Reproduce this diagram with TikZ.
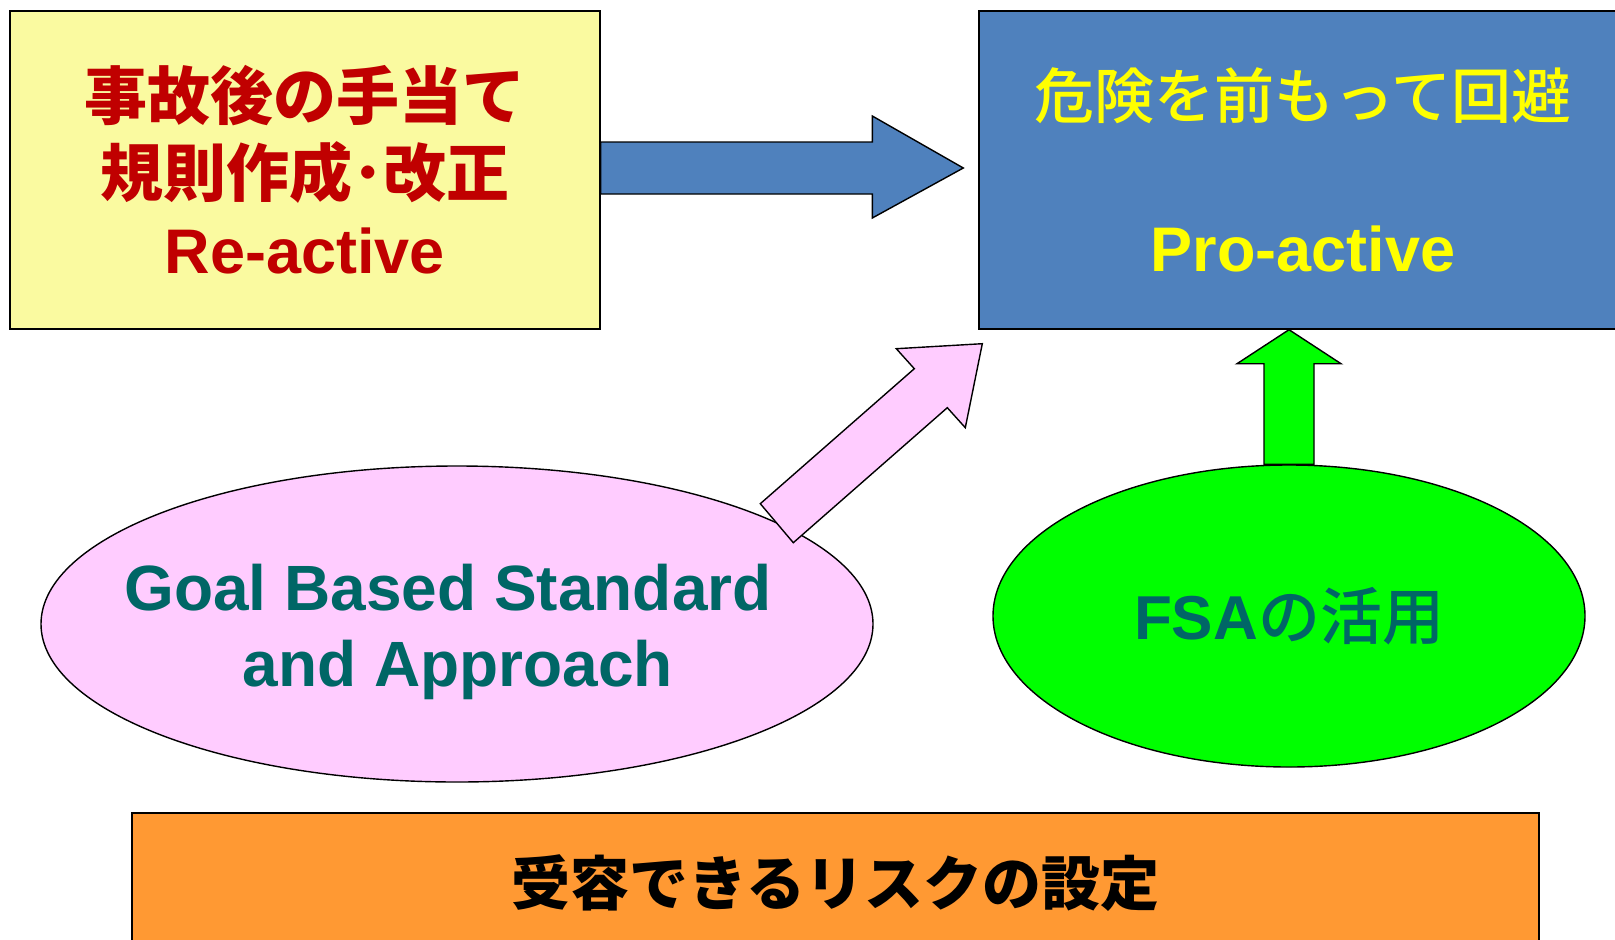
\documentclass[tikz,border=0pt]{standalone}
\usepackage{fontspec}
\setmainfont{Liberation Sans}
\newfontfamily\jp{Noto Sans CJK JP}
\newfontfamily\jpmid{Noto Sans CJK JP Medium}
\usetikzlibrary{shapes.geometric,calc}

\definecolor{boxyellow}{RGB}{250,250,160}
\definecolor{boxblue}{RGB}{79,129,189}
\definecolor{ovalpink}{RGB}{255,204,255}
\definecolor{ovalgreen}{RGB}{0,255,0}
\definecolor{boxorange}{RGB}{255,153,51}
\definecolor{txtred}{RGB}{192,0,0}
\definecolor{txtteal}{RGB}{0,102,102}
\definecolor{txtyellow}{RGB}{255,255,0}

\begin{document}
\begin{tikzpicture}[x=1pt,y=-1pt,
  shapeline/.style={draw=black,line width=1.4pt},
  panel/.style={shapeline,rectangle,inner sep=0pt,align=center},
  oval/.style={shapeline,ellipse,inner sep=0pt,align=center},
  blockarrow/.style={shapeline,line join=miter}]

\useasboundingbox (0,0) rectangle (1615,940);
\clip (0,0) rectangle (1615,940);

% upper boxes
\node[panel,fill=boxyellow,minimum width=590,minimum height=318,text=txtred,
      font=\bfseries\fontsize{63}{77}\selectfont] (reactive) at (305,170)
  {{\jp 事故後の手当て}\\{\jp 規則作成･改正}\\Re-active};

\node[panel,fill=boxblue,minimum width=648,minimum height=318,text=txtyellow,
      font=\bfseries\fontsize{63}{76.5}\selectfont] (proactive) at (1303,170)
  {{\jpmid\mdseries\fontsize{60}{76.5}\selectfont 危険を前もって回避}\\[76.5pt]Pro-active};

% ellipses
\node[oval,fill=ovalpink,minimum width=832,minimum height=316] (gbs) at (457,624) {};
\node[text=txtteal,align=center,font=\bfseries\fontsize{64}{76}\selectfont]
  (gbstext) at (448,632) {Goal Based Standard\\\hspace*{20pt}and Approach};

\node[oval,fill=ovalgreen,minimum width=592,minimum height=302,text=txtteal,
      font=\bfseries\fontsize{62}{70}\selectfont] (fsa) at (1289,616)
  {FSA{\jpmid\mdseries の活用}};

% bottom box
\node[panel,fill=boxorange,minimum width=1407,minimum height=140,
      font=\jp\bfseries\fontsize{59}{70}\selectfont] (acceptable) at (835.5,883)
  {受容できるリスクの設定};

% block arrows
\coordinate (bluetip) at ($(proactive.west)+(-15,-2)$);
\draw[blockarrow,fill=boxblue]
  ($(reactive.east)+(0,-28)$) -- ($(bluetip)+(-91,-26)$) -- ($(bluetip)+(-91,-52)$)
  -- (bluetip) -- ($(bluetip)+(-91,50)$) -- ($(bluetip)+(-91,26)$)
  -- ($(reactive.east)+(0,24)$) -- cycle;

\coordinate (greentip) at (fsa.north |- proactive.south);
\draw[blockarrow,fill=ovalgreen]
  (greentip) -- ($(greentip)+(52,34)$) -- ($(greentip)+(25,34)$)
  -- ($(fsa.north)+(25,0)$) -- ($(fsa.north)+(-25,0)$)
  -- ($(greentip)+(-25,34)$) -- ($(greentip)+(-52,34)$) -- cycle;

\coordinate (pinktip) at ($(proactive.south west)+(4,14)$);
\draw[blockarrow,fill=ovalpink]
  (pinktip) -- ($(pinktip)+(-17,84)$) -- ($(pinktip)+(-35,64)$)
  -- ($(pinktip)+(-189,199)$) -- ($(pinktip)+(-222,160)$)
  -- ($(pinktip)+(-68,25)$) -- ($(pinktip)+(-86,5)$) -- cycle;
\end{tikzpicture}
\end{document}
